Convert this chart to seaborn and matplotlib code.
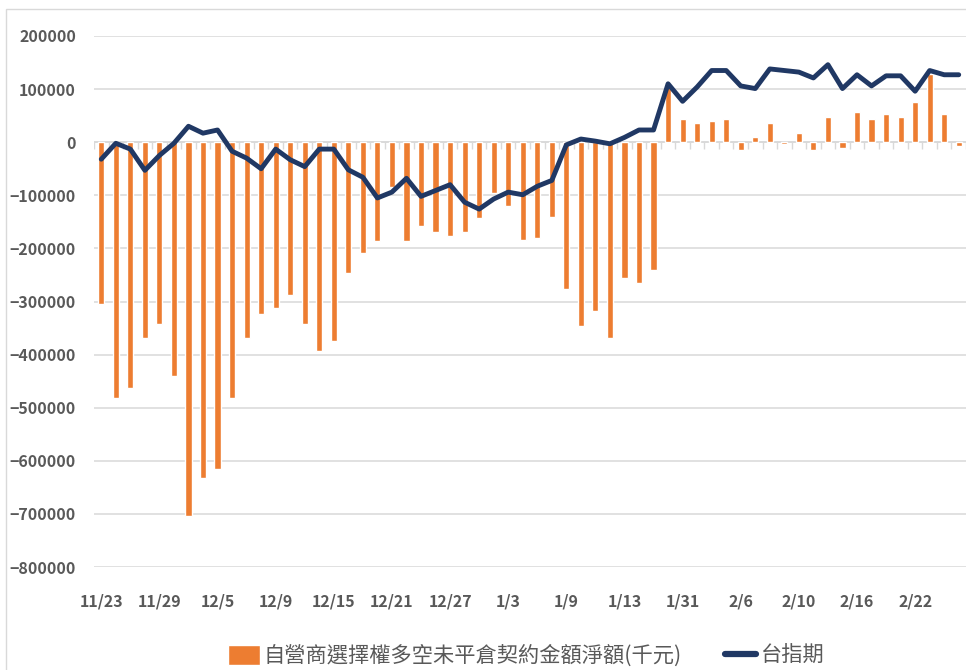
import numpy as np
import pandas as pd
import seaborn as sns
import matplotlib.pyplot as plt
from matplotlib.patches import Patch, Rectangle
from matplotlib.lines import Line2D

# x-axis labels (one label every 4 trading days)
tick_labels = ['11/23', '11/29', '12/5', '12/9', '12/15', '12/21', '12/27', '1/3',
               '1/9', '1/13', '1/31', '2/6', '2/10', '2/16', '2/22']

# 自營商選擇權多空未平倉契約金額淨額 (千元)
net_oi = [-305, -481, -463, -368, -342, -440, -704, -632, -616, -481,
          -368, -324, -313, -287, -342, -393, -375, -247, -209, -187,
          -85, -187, -158, -170, -177, -170, -143, -96, -121, -184,
          -180, -140, -276, -347, -317, -369, -255, -265, -240, 106,
          43, 36, 39, 43, -14, 10, 36, -4, 17, -14,
          47, -11, 57, 43, 53, 47, 75, 129, 53, -7]

# 台指期 line (drawn on the same scale)
taiex_fut = [-32, -2, -13, -53, -25, -2, 30, 17, 23, -17,
             -30, -50, -13, -33, -46, -13, -13, -52, -66, -105,
             -94, -68, -102, -91, -80, -113, -126, -107, -94, -99,
             -83, -72, -5, 6, 2, -3, 9, 23, 23, 110,
             77, 104, 135, 135, 106, 101, 138, 135, 132, 121,
             146, 101, 127, 106, 125, 125, 96, 135, 127, 127]

bar_name = '自營商選擇權多空未平倉契約金額淨額(千元)'
line_name = '台指期'

df = pd.DataFrame({
    'idx': np.arange(len(net_oi)),
    'net': np.array(net_oi) * 1000,
    'fut': np.array(taiex_fut) * 1000,
})

sns.set_style('white')
plt.rcParams['font.family'] = ['Noto Sans CJK TC', 'DejaVu Sans']

orange = '#ED7D31'
navy = '#203864'
grey_txt = '#595959'
grid_c = '#D9D9D9'

fig = plt.figure(figsize=(9.66, 6.7), dpi=100)
ax = fig.add_axes([94 / 966, 1 - 567 / 670, (966 - 94) / 966, (567 - 36) / 670])

sns.barplot(data=df, x='idx', y='net', color=orange, saturation=1, width=0.42, ax=ax, zorder=2)
sns.lineplot(data=df, x='idx', y='fut', color=navy, lw=3.5, ax=ax, zorder=3)

n = len(net_oi)
ax.set_xlim(-0.5, n - 0.5)
ax.set_ylim(-800000, 200000)
ax.set_yticks(np.arange(-800000, 200001, 100000))
ax.set_xticks(np.arange(0, n, 4))
ax.set_xticklabels(tick_labels)
ax.set_xlabel('')
ax.set_ylabel('')

ax.yaxis.grid(True, color=grid_c, lw=1.1)
ax.set_axisbelow(True)
for s in ax.spines.values():
    s.set_visible(False)

# category axis at zero with small tick marks
ax.axhline(0, color=grid_c, lw=1.2, zorder=1.5)
ax.vlines(np.arange(-0.5, n), -13000, 0, color=grid_c, lw=1, zorder=1.5)

ax.tick_params(axis='y', length=0, pad=13, labelsize=11.5, labelcolor=grey_txt)
ax.tick_params(axis='x', length=0, pad=19, labelsize=11.5, labelcolor=grey_txt)
for t in ax.get_xticklabels() + ax.get_yticklabels():
    t.set_fontweight('bold')

# chart frame
fig.patches.append(Rectangle((6 / 966, -0.05), 1.1, 1 - 9 / 670 + 0.05, transform=fig.transFigure,
                             fill=False, edgecolor=grid_c, lw=1))

handles = [Patch(facecolor=orange, label=bar_name),
           Line2D([], [], color=navy, lw=4.5, label=line_name)]
fig.legend(handles=handles, loc='center', bbox_to_anchor=(526 / 966, 1 - 656 / 670), ncol=2,
           frameon=False, labelcolor=grey_txt, handlelength=1.5, handleheight=1.1,
           handletextpad=0.2, columnspacing=2.0,
           prop={'family': ['Noto Sans CJK TC', 'DejaVu Sans'], 'size': 15.3})

fig.savefig('out.png', dpi=100)
